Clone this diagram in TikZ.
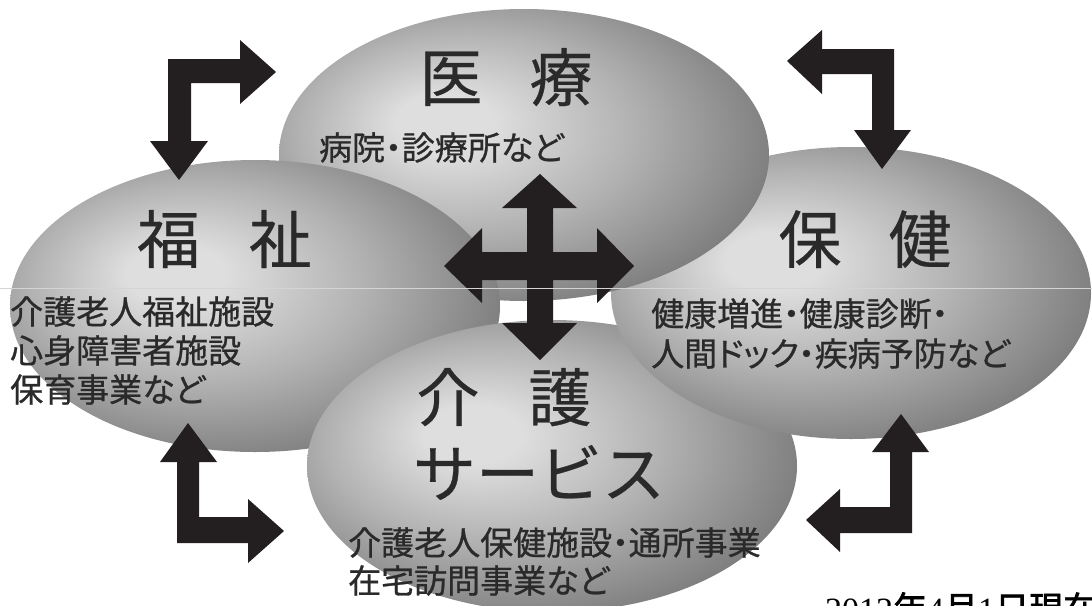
\documentclass[tikz,border=0pt]{standalone}
\usepackage{fontspec}
\newfontfamily\jp[RawFeature=+palt,FakeBold=0.8]{Noto Sans CJK JP}
\newfontfamily\jpf[FakeBold=0.4]{Noto Sans CJK JP}
\newfontfamily\jpb[FakeBold=1.8]{Noto Sans CJK JP}
\newfontfamily\dateserif{Liberation Serif}
\definecolor{eggA}{HTML}{DEDEDE}
\definecolor{eggB}{HTML}{B2B2B2}
\definecolor{eggC}{HTML}{787878}
\definecolor{eggD}{HTML}{666666}
\definecolor{arrowblack}{HTML}{231F20}
\definecolor{textgray}{HTML}{2A2A2A}
\definecolor{rulegray}{HTML}{D4D4D4}
\pgfdeclareradialshading{egg}{\pgfpoint{-9bp}{6bp}}{color(0bp)=(eggA); color(5bp)=(eggA); color(17bp)=(eggB); color(31bp)=(eggC); color(50bp)=(eggD)}
\tikzset{
  ball/.style={shading=egg},
  blockarrow/.style={fill=arrowblack, draw=none},
  title/.style={font=\jpf\fontsize{63}{70}\selectfont, text=textgray, inner sep=0pt, anchor=base},
  sub/.style={font=\jp\fontsize{33}{40}\selectfont, text=textgray, inner sep=0pt, anchor=base west},
  datelabel/.style={font=\fontsize{34}{40}\selectfont, text=black, inner sep=0pt, anchor=base west},
}
\begin{document}
\begin{tikzpicture}[x=1pt,y=-1pt]
\useasboundingbox (0,0) rectangle (1092,605);
\clip (0,0) rectangle (1092,605);
\fill[white] (0,0) rectangle (1092,605);

\coordinate (kaigoC) at (552,466);
\coordinate (hokenC) at (851,293);
\coordinate (iryoC) at (524,155);
\coordinate (fukuC) at (255,306);

% ellipses (cyclic overlap: kaigo < hoken < iryo < fuku < kaigo)
\shade[ball] (kaigoC) ellipse [x radius=245, y radius=146];
\shade[ball] (hokenC) ellipse [x radius=240, y radius=146];
\shade[ball] (iryoC) ellipse [x radius=245, y radius=146];
\shade[ball] (fukuC) ellipse [x radius=245, y radius=146];
\begin{scope}
  \clip (fukuC) ellipse [x radius=248, y radius=149];
  \shade[ball] (kaigoC) ellipse [x radius=245, y radius=146];
\end{scope}

% bent arrows
\fill[blockarrow] (179,180) -- (208,141) -- (191,141) -- (191,83) -- (240,83) -- (240,104)
  -- (276,72) -- (240,40) -- (240,59) -- (168,59) -- (168,141) -- (150,141) -- cycle;
\fill[blockarrow] (787,61) -- (822,30) -- (822,49) -- (894,49) -- (894,130) -- (911,130)
  -- (882,169) -- (854,130) -- (872,130) -- (872,74) -- (822,74) -- (822,94) -- cycle;
\fill[blockarrow] (188,423) -- (217,462) -- (199,462) -- (199,517) -- (248,517) -- (248,499)
  -- (284,531) -- (248,563) -- (248,543) -- (177,543) -- (177,462) -- (160,462) -- cycle;
\fill[blockarrow] (901,414) -- (929,452) -- (912,452) -- (912,533) -- (840,533) -- (840,552)
  -- (806,520) -- (840,489) -- (840,507) -- (890,507) -- (890,452) -- (872,452) -- cycle;
% central four-way arrow
\fill[blockarrow] (540,174) -- (577,208) -- (553,208) -- (553,252) -- (597,252) -- (597,228)
  -- (634,266) -- (597,303) -- (597,280) -- (553,280) -- (553,323) -- (577,323) -- (540,360)
  -- (502,323) -- (527,323) -- (527,280) -- (482,280) -- (482,303) -- (444,266) -- (482,228)
  -- (482,252) -- (527,252) -- (527,208) -- (502,208) -- cycle;

% titles
\node[title] (iryoT) at (506,101) {医\hspace{47pt}療};
\node[title] (fukuT) at (224.5,263) {福\hspace{49pt}祉};
\node[title] (hokenT) at (865,263) {保\hspace{47pt}健};
\node[title] (kaigoT) at (504,421) {介\hspace{49pt}護};
\node[title] (serviceT) at (539,497) {サービス};

% sub texts
\node[sub] (iryoS) at (319,160) {病院・診療所など};
\node[sub] (fukuS1) at (10,324) {介護老人福祉施設};
\node[sub] (fukuS2) at (10,363) {心身障害者施設};
\node[sub] (fukuS3) at (10,402) {保育事業など};
\node[sub] (hokenS1) at (651,326) {健康増進・健康診断・};
\node[sub] (hokenS2) at (651,366) {人間ドック・疾病予防など};
\node[sub] (kaigoS1) at (348,555) {介護老人保健施設・通所事業};
\node[sub] (kaigoS2) at (348,593) {在宅訪問事業など};

\node[datelabel] (date) at (825,621) {\dateserif 2012\jpb 年\dateserif 4\jpb 月\dateserif 1\jpb 日現在};

% thin rule
\coordinate (ruleL) at (0,288);
\coordinate (ruleR) at (1092,288);
\draw[rulegray, line width=0.8pt] (ruleL) -- (ruleR);
\end{tikzpicture}
\end{document}
